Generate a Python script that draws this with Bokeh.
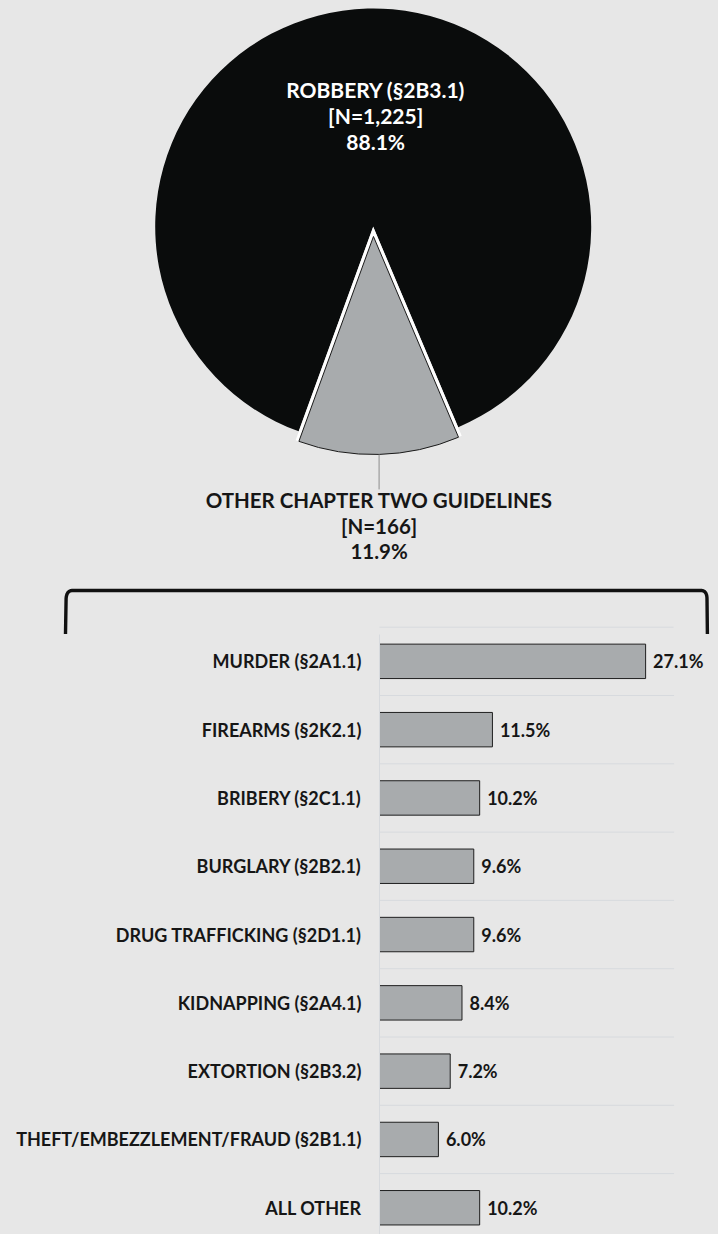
import numpy as np
from bokeh.plotting import figure
from bokeh.models import Range1d, FixedTicker
from bokeh.layouts import column
from bokeh.embed import file_html
from bokeh.resources import INLINE
from bokeh.core.properties import value

# ---------------- data ----------------
pie_labels = ["ROBBERY (§2B3.1)", "OTHER CHAPTER TWO GUIDELINES"]
pie_counts = [1225, 166]

bar_categories = [
    "MURDER (§2A1.1)",
    "FIREARMS (§2K2.1)",
    "BRIBERY (§2C1.1)",
    "BURGLARY (§2B2.1)",
    "DRUG TRAFFICKING (§2D1.1)",
    "KIDNAPPING (§2A4.1)",
    "EXTORTION (§2B3.2)",
    "THEFT/EMBEZZLEMENT/FRAUD (§2B1.1)",
    "ALL OTHER",
]
bar_values = [27.1, 11.5, 10.2, 9.6, 9.6, 8.4, 7.2, 6.0, 10.2]
x_axis_max = 30

# ---------------- style ----------------
BG = "#e7e7e7"
BLACK = "#0a0c0c"
GRAY = "#a8abad"
TXT = "#161616"
GRID = "#d7dade"
FONT = value("Lato")

W = 718
H1 = 634
H2 = 600

# ---------------- figure 1: pie ----------------
p1 = figure(width=W, height=H1, x_range=Range1d(0, W), y_range=Range1d(H1, 0),
            output_backend="svg", toolbar_location=None,
            x_axis_location=None, y_axis_location=None, min_border=0)
p1.grid.visible = False
p1.outline_line_color = None
p1.background_fill_color = BG
p1.border_fill_color = BG
try:
    p1.frame_align = False
except Exception:
    pass

cx, cy, R = 372.7, 226.0, 218.0
explode = 10.0
total = sum(pie_counts)
fracs = [c / total for c in pie_counts]
g_start = np.deg2rad(-110.0)
g_end = g_start + 2 * np.pi * fracs[1]
g_mid = 0.5 * (g_start + g_end)

# main (black) slice
p1.wedge(x=cx, y=cy, radius=R, start_angle=g_end, end_angle=g_start + 2 * np.pi,
         fill_color=BLACK, line_color=None)

# exploded grey slice
gx = cx + explode * np.cos(g_mid)
gy = cy - explode * np.sin(g_mid)
c1 = (gx + R * np.cos(g_start), gy - R * np.sin(g_start))
c2 = (gx + R * np.cos(g_end), gy - R * np.sin(g_end))
p1.line(x=[c1[0], gx, c2[0]], y=[c1[1], gy, c2[1]], line_color="white",
        line_width=7, line_join="miter")
p1.wedge(x=gx, y=gy, radius=R, start_angle=g_start, end_angle=g_end,
         fill_color=GRAY, line_color="#1a1a1a", line_width=1)

# leader line
lx = gx + R * np.cos(g_mid)
ly = gy - R * np.sin(g_mid)
p1.segment(x0=[lx], y0=[ly], x1=[lx], y1=[ly + 35], line_color="#8c8c8c", line_width=1)

# pie labels
def pie_text(x, ys, lines, color, size):
    p1.text(x=[x] * len(lines), y=ys, text=lines, text_color=color,
            text_font=FONT, text_font_style="bold", text_font_size=size,
            text_align="center", text_baseline="middle")

pcts = [100 * f for f in fracs]
pie_text(cx + 2.5, [89.2, 115.0, 140.5],
         [pie_labels[0], f"[N={pie_counts[0]:,}]", f"{pcts[0]:.1f}%"], "white", "21px")
pie_text(lx, [499.5, 525.5, 550.5],
         [pie_labels[1], f"[N={pie_counts[1]:,}]", f"{pcts[1]:.1f}%"], TXT, "20.5px")

# bracket
def quad(p0, p1_, p2, n=12):
    t = np.linspace(0, 1, n)[:, None]
    a, b, c = np.array(p0), np.array(p1_), np.array(p2)
    return (1 - t) ** 2 * a + 2 * (1 - t) * t * b + t ** 2 * c

left = [np.array([[65.0, 633.5], [65.6, 598.0]]),
        quad((65.6, 598.0), (66.2, 590.0), (72.0, 590.0))]
right = [quad((700.5, 590.0), (706.3, 590.0), (706.5, 598.0)),
         np.array([[706.5, 598.0], [706.9, 633.5]])]
path = np.vstack(left + right)
p1.line(x=path[:, 0], y=path[:, 1], line_color="#111111", line_width=3.4,
        line_join="round")

# top separator of the bar panel
p1.segment(x0=[379], y0=[626.7], x1=[379 + 294], y1=[626.7], line_color=GRID, line_width=1)

# ---------------- figure 2: bars ----------------
step = 68.3
y_top = -0.5 + 7.3 / step
y_bot = y_top + H2 / step
frame_left = 379
px_per_unit = 9.82
x_end = (W - frame_left) / px_per_unit

p2 = figure(width=W, height=H2, x_range=Range1d(0, x_end), y_range=Range1d(y_bot, y_top),
            output_backend="svg", toolbar_location=None, x_axis_location=None,
            min_border_left=frame_left, min_border_right=0, min_border_top=0, min_border_bottom=0)
p2.xgrid.visible = False
p2.ygrid.visible = False
p2.outline_line_color = None
p2.background_fill_color = BG
p2.border_fill_color = BG
try:
    p2.frame_align = False
except Exception:
    pass

idx = list(range(len(bar_categories)))
bounds = [i + 0.5 for i in idx]
p2.segment(x0=[0] * len(bounds), x1=[x_axis_max] * len(bounds), y0=bounds, y1=bounds,
           line_color=GRID, line_width=1)

p2.hbar(y=idx, left=0, right=bar_values, height=0.504, fill_color=GRAY,
        line_color="#1f1f1f", line_width=1)
p2.text(x=bar_values, y=idx, text=[f"{v:.1f}%" for v in bar_values], x_offset=7.5,
        text_color=TXT, text_font=FONT, text_font_style="bold", text_font_size="18px",
        text_align="left", text_baseline="middle")

ax = p2.yaxis[0]
ax.ticker = FixedTicker(ticks=idx)
ax.major_label_overrides = {i: c for i, c in zip(idx, bar_categories)}
ax.axis_line_color = GRID
ax.axis_line_width = 1
ax.major_tick_line_color = None
ax.minor_tick_line_color = None
ax.major_tick_out = 0
ax.major_tick_in = 0
ax.minor_tick_out = 0
ax.minor_tick_in = 0
ax.major_label_standoff = 18
ax.major_label_text_font = "Lato"
ax.major_label_text_font_style = "bold"
ax.major_label_text_font_size = "18px"
ax.major_label_text_color = TXT

layout = column(p1, p2, spacing=0)
html = file_html(layout, INLINE)
k = html.rfind("</head>")
html = html[:k] + f"<style>body{{background-color:{BG};}}</style>" + html[k:]
open("out.html", "w").write(html)
